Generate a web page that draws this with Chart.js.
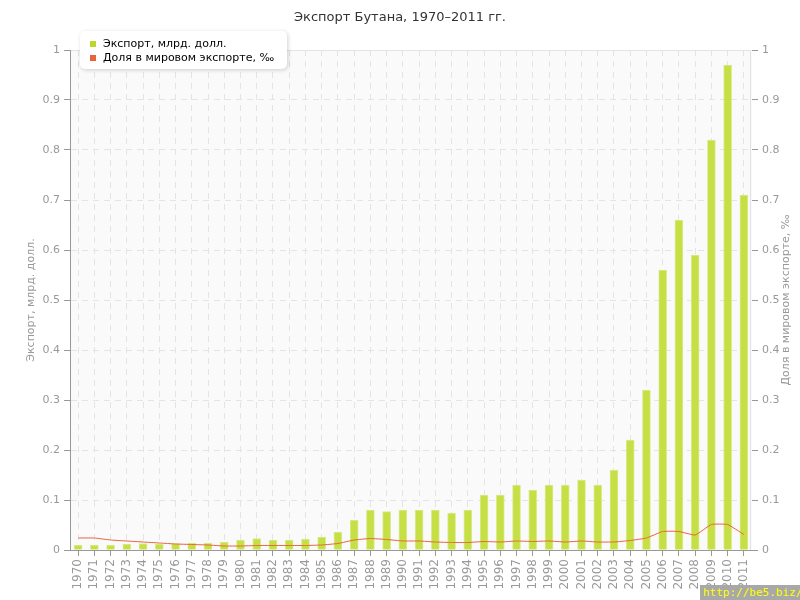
<!DOCTYPE html>
<html lang="ru">
<head>
    <meta charset="UTF-8">
    <title>Экспорт Бутана</title>
    <script src="https://cdn.jsdelivr.net/npm/chart.js"></script>
    <style>
        body { margin: 0; background: #fff; }
        #wrap { position: relative; width: 800px; height: 600px; }
        #mark {
            position: absolute; left: 700px; top: 585px; width: 100px; height: 15px;
            background: #a8a8a8; color: #ffff00; font: 11px "DejaVu Sans Mono", monospace;
            line-height: 15px; padding-left: 3px; box-sizing: border-box; white-space: nowrap; overflow: hidden;
        }
    </style>
</head>
<body>
<div id="wrap">
    <canvas id="chart" width="800" height="600"></canvas>
    <div id="mark">http://be5.biz/</div>
</div>
<script>
    const years = ['1970','1971','1972','1973','1974','1975','1976','1977','1978','1979',
        '1980','1981','1982','1983','1984','1985','1986','1987','1988','1989',
        '1990','1991','1992','1993','1994','1995','1996','1997','1998','1999',
        '2000','2001','2002','2003','2004','2005','2006','2007','2008','2009',
        '2010','2011'];

    // экспорт, млрд. долл.
    const exportValues = [0.010, 0.010, 0.010, 0.012, 0.013, 0.012, 0.013, 0.014, 0.014, 0.016,
        0.020, 0.023, 0.020, 0.020, 0.022, 0.026, 0.036, 0.060, 0.080, 0.077,
        0.080, 0.080, 0.080, 0.074, 0.080, 0.110, 0.110, 0.130, 0.120, 0.130,
        0.130, 0.140, 0.130, 0.160, 0.220, 0.320, 0.560, 0.660, 0.590, 0.820,
        0.970, 0.710];

    // доля в мировом экспорте, промилле
    const shareValues = [0.024, 0.024, 0.020, 0.018, 0.016, 0.014, 0.012, 0.011, 0.010, 0.008,
        0.008, 0.009, 0.009, 0.009, 0.009, 0.010, 0.013, 0.020, 0.023, 0.021,
        0.018, 0.018, 0.016, 0.015, 0.015, 0.017, 0.016, 0.018, 0.017, 0.018,
        0.016, 0.018, 0.016, 0.016, 0.019, 0.024, 0.037, 0.037, 0.030, 0.051,
        0.051, 0.031];

    const titleText = 'Экспорт Бутана, 1970–2011 гг.';
    const rightTitle = 'Доля в мировом экспорте, ‰';
    const tickColor = '#999';
    const gridColor = '#e4e4e4';

    const fmt = v => String(Math.round(v * 10) / 10);

    // фон области построения, рамка, заголовки и легенда
    const decor = {
        id: 'decor',
        beforeDraw(chart) {
            const {ctx, chartArea: a} = chart;
            ctx.save();
            ctx.fillStyle = '#fafafa';
            ctx.fillRect(a.left, a.top, a.right - a.left, a.bottom - a.top);
            ctx.strokeStyle = '#e2e2e2';
            ctx.lineWidth = 1;
            ctx.beginPath();
            ctx.moveTo(a.left, a.top + 0.5);
            ctx.lineTo(a.right - 1.5, a.top + 0.5);
            ctx.lineTo(a.right - 1.5, a.bottom);
            ctx.stroke();
            ctx.fillStyle = '#333';
            ctx.font = '13px "DejaVu Sans"';
            ctx.textAlign = 'center';
            ctx.textBaseline = 'middle';
            ctx.fillText(titleText, 400, 18);
            // подпись правой оси, читается снизу вверх
            ctx.translate(786, 300);
            ctx.rotate(-Math.PI / 2);
            ctx.fillStyle = tickColor;
            ctx.font = '11px "DejaVu Sans"';
            ctx.fillText(rightTitle, 0, 0);
            ctx.restore();
        },
        afterDraw(chart) {
            const {ctx} = chart;
            ctx.save();
            ctx.shadowColor = 'rgba(0,0,0,0.18)';
            ctx.shadowBlur = 4;
            ctx.shadowOffsetX = 1;
            ctx.shadowOffsetY = 1;
            ctx.fillStyle = '#fff';
            ctx.beginPath();
            ctx.roundRect(80, 31, 207, 38, 5);
            ctx.fill();
            ctx.restore();
            ctx.save();
            ctx.font = '11px "DejaVu Sans"';
            ctx.textBaseline = 'middle';
            chart.data.datasets.forEach((ds, i) => {
                const y = 44 + i * 14;
                ctx.fillStyle = ds.legendColor;
                ctx.fillRect(90, y - 3, 6, 6);
                ctx.fillStyle = '#000';
                ctx.fillText(ds.label, 103, y);
            });
            ctx.restore();
        }
    };

    new Chart(document.getElementById('chart'), {
        data: {
            labels: years,
            datasets: [{
                type: 'bar',
                label: 'Экспорт, млрд. долл.',
                data: exportValues,
                yAxisID: 'y',
                backgroundColor: '#c6df45',
                borderColor: '#dbeb90',
                borderWidth: 1,
                barThickness: 8,
                legendColor: '#b8d92a',
                order: 1
            }, {
                type: 'line',
                label: rightTitle,
                data: shareValues,
                yAxisID: 'y1',
                borderColor: '#e8643a',
                borderWidth: 1,
                pointRadius: 0,
                tension: 0.12,
                legendColor: '#e8643a',
                order: 0
            }]
        },
        options: {
            responsive: false,
            animation: false,
            layout: { padding: { top: 50, left: 0, right: 0, bottom: 0 } },
            plugins: {
                legend: { display: false },
                title: { display: false },
                tooltip: { enabled: false }
            },
            scales: {
                x: {
                    z: 1,
                    offset: true,
                    grid: { offset: false, color: gridColor, tickColor: '#999', tickLength: 6 },
                    border: { color: '#999', dash: [6, 5] },
                    ticks: { color: tickColor, font: { family: 'DejaVu Sans', size: 12 }, minRotation: 90, maxRotation: 90, autoSkip: false, padding: 3 },
                    afterFit: s => { s.height = 50; }
                },
                y: {
                    z: 1,
                    position: 'left',
                    min: 0, max: 1,
                    grid: { color: gridColor, tickColor: '#999', tickLength: 6 },
                    border: { color: '#999', dash: [6, 5] },
                    ticks: { stepSize: 0.1, color: tickColor, font: { family: 'DejaVu Sans', size: 11 }, padding: 4, callback: fmt },
                    title: { display: true, text: 'Экспорт, млрд. долл.', color: tickColor, font: { family: 'DejaVu Sans', size: 11 }, padding: { top: 25 } },
                    afterFit: s => { s.width = 70; }
                },
                y1: {
                    position: 'right',
                    min: 0, max: 1,
                    grid: { drawOnChartArea: false, tickColor: '#999', tickLength: 6 },
                    border: { display: false },
                    ticks: { stepSize: 0.1, color: tickColor, font: { family: 'DejaVu Sans', size: 11 }, padding: 4, callback: fmt },
                    afterFit: s => { s.width = 48; }
                }
            }
        },
        plugins: [decor]
    });
</script>
</body>
</html>
